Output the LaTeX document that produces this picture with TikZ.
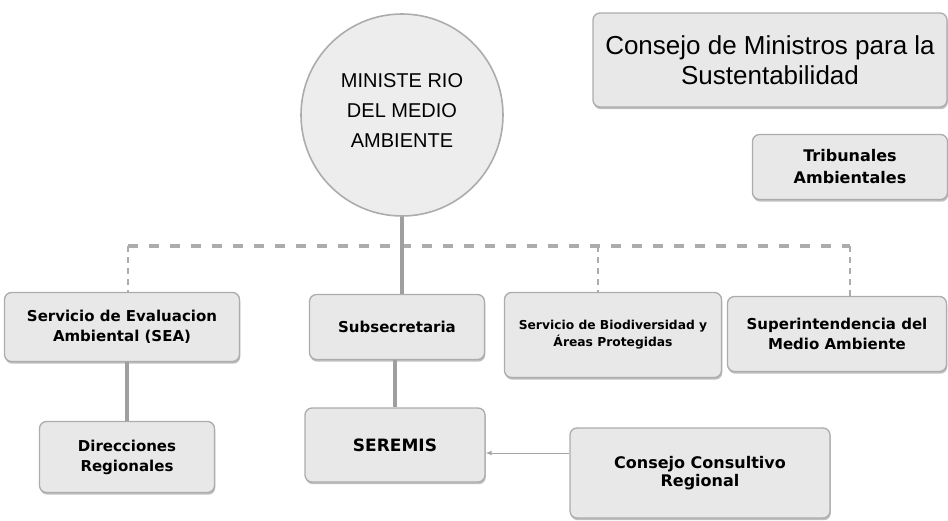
\documentclass[tikz,border=0pt]{standalone}
\usepackage{fontspec}
\setmainfont{Liberation Sans}
\newfontfamily\boxfont{DejaVu Sans}
\usetikzlibrary{shadows,arrows.meta}
\begin{document}
\begin{tikzpicture}[x=1pt,y=-1pt,
  box/.style={draw=gray!65, line width=1.3pt, fill=gray!18, rounded corners=7pt,
    align=center, inner sep=2pt, font=\boxfont\bfseries\fontsize{15}{20}\selectfont,
    drop shadow={opacity=0.5, shadow xshift=0.8pt, shadow yshift=-2.2pt}},
  solidlink/.style={draw=gray!75, line width=3.5pt},
  dashlink/.style={draw=gray!65, line width=3.5pt, dash pattern=on 10pt off 11pt},
  droplink/.style={draw=gray!65, line width=2.5pt, dash pattern=on 6pt off 5pt},
  arrowlink/.style={draw=gray!70, line width=1pt, -{Latex[length=6pt,width=5pt]}}]
\useasboundingbox (0,0) rectangle (948,520);

% Ministry circle
\node[circle, draw=gray!65, line width=1.6pt, fill=gray!14, minimum size=202pt,
  align=center, font=\fontsize{20}{30}\selectfont] (min) at (402,115)
  {MINISTE RIO\\DEL MEDIO\\AMBIENTE\\[-22pt]};

% Top right boxes
\node[box, minimum width=354pt, minimum height=94pt, font=\fontsize{26}{30}\selectfont] (cms) at (770,60)
  {Consejo de Ministros para la\\Sustentabilidad};
\node[box, minimum width=195pt, minimum height=65pt, font=\boxfont\bfseries\fontsize{16}{22}\selectfont] (tri) at (850,167)
  {Tribunales\\Ambientales};

% Second level
\node[box, minimum width=235pt, minimum height=69pt] (sea) at (122,327)
  {Servicio de Evaluacion\\Ambiental (SEA)};
\node[box, minimum width=175pt, minimum height=65pt] (sub) at (397,327)
  {Subsecretaria};
\node[box, minimum width=217pt, minimum height=85pt, font=\boxfont\bfseries\fontsize{12.3}{17}\selectfont] (bio) at (613,335)
  {Servicio de Biodiversidad y\\Áreas Protegidas};
\node[box, minimum width=219pt, minimum height=75pt] (sup) at (837,334)
  {Superintendencia del\\Medio Ambiente};

% Third level
\node[box, minimum width=175pt, minimum height=71pt] (dir) at (127,457)
  {Direcciones\\Regionales};
\node[box, minimum width=180pt, minimum height=74pt, font=\boxfont\bfseries\fontsize{17}{20}\selectfont] (ser) at (395,445)
  {SEREMIS};
\node[box, minimum width=260pt, minimum height=90pt, font=\boxfont\bfseries\fontsize{16}{18}\selectfont] (ccr) at (700,473)
  {Consejo Consultivo\\Regional};

% Connectors
\coordinate (dl) at (128,246);
\coordinate (db) at (598,246);
\coordinate (dr) at (850,246);
\draw[dashlink] (dl) -- (dr);
\draw[droplink] (dl) -- (sea.north -| dl);
\draw[droplink] (db) -- (bio.north -| db);
\draw[droplink] (dr) -- (sup.north -| dr);
\draw[solidlink] (min.south) -- (sub.north -| min.south);
\draw[solidlink] (sea.south -| dir.north) -- (dir.north);
\draw[solidlink] (sub.south -| ser.north) -- (ser.north);
\draw[arrowlink] ([yshift=-8pt]ccr.west |- ser.east) -- ([yshift=-8pt]ser.east);
\end{tikzpicture}
\end{document}
